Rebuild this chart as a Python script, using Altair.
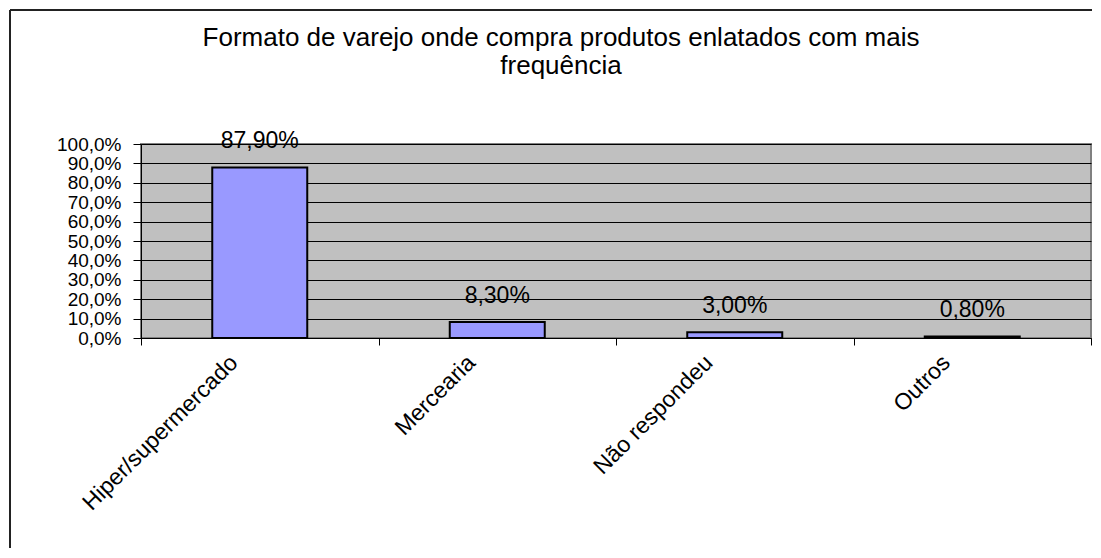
import altair as alt
import pandas as pd

categories = ["Hiper/supermercado", "Mercearia", "Não respondeu", "Outros"]
values = [0.879, 0.083, 0.030, 0.008]
y_ticks = [0.0, 0.1, 0.2, 0.3, 0.4, 0.5, 0.6, 0.7, 0.8, 0.9, 1.0]
title_lines = ["Formato de varejo onde compra produtos enlatados com mais", "frequência"]

df = pd.DataFrame({"cat": categories, "val": values})

FONT = "Liberation Sans"

x_enc = alt.X(
    "cat:N", sort=categories, title=None,
    scale=alt.Scale(paddingInner=0, paddingOuter=0),
    axis=alt.Axis(labelAngle=-45, labelFontSize=23, labelFont=FONT, labelColor="black",
                  tickBand="extent", tickColor="black", tickSize=7, domainColor="black",
                  labelPadding=6, labelOffset=-34, labelAlign="right", labelBaseline="top",
                  labelLimit=500, grid=False),
)
y_enc = alt.Y(
    "val:Q", title=None,
    scale=alt.Scale(domain=[0, 1], nice=False),
    axis=alt.Axis(values=y_ticks, labelExpr="replace(format(datum.value, '.1%'), '.', ',')",
                  labelFontSize=19, labelFont=FONT, labelColor="black", labelPadding=12,
                  labelOverlap=False, labelBound=False,
                  tickColor="black", tickSize=8, domainColor="black",
                  grid=True, gridColor="black", gridWidth=1),
)

base = alt.Chart(df)

bars = base.mark_bar(color="#9999FF", stroke="black", strokeWidth=2,
                     width=alt.RelativeBandSize(0.4)).encode(x=x_enc, y=y_enc)

labels = base.mark_text(fontSize=23, font=FONT, color="black", baseline="alphabetic", dy=-19).transform_calculate(
    lab="replace(format(datum.val, '.2%'), '.', ',')"
).encode(x=x_enc, y=y_enc, text="lab:N")

frame_left = base.mark_rule(color="#222222", strokeWidth=2).encode(
    x=alt.value(-131), y=alt.value(-134), y2=alt.value(700))
frame_top = base.mark_rule(color="#222222", strokeWidth=2).encode(
    x=alt.value(-131), x2=alt.value(1200), y=alt.value(-134))

chart = alt.layer(bars, labels, frame_left, frame_top).properties(
    width=950, height=194,
    title=alt.TitleParams(text=title_lines, fontSize=26, font=FONT, fontWeight="normal",
                          color="black", anchor="middle", dx=-55, offset=0, dy=70, lineHeight=28),
    autosize=alt.AutoSizeParams(type="none"),
    padding={"left": 133, "top": 136, "right": 1, "bottom": 210},
    background="white",
).configure_view(fill="#C0C0C0", stroke="#808080", strokeWidth=2)

chart.save("out.html", embed_options={"renderer": "svg", "actions": False})
